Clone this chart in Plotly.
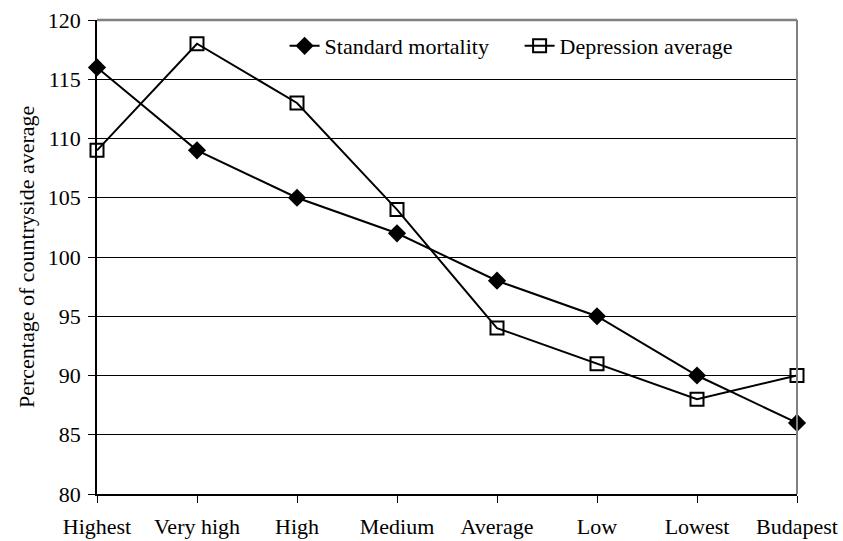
import plotly.graph_objects as go

categories = ["Highest", "Very high", "High", "Medium", "Average", "Low", "Lowest", "Budapest"]
standard_mortality = [116, 109, 105, 102, 98, 95, 90, 86]
depression_average = [109, 118, 113, 104, 94, 91, 88, 90]
y_ticks = [80, 85, 90, 95, 100, 105, 110, 115, 120]
y_title = "Percentage of countryside average"

xpos = list(range(len(categories)))
font = dict(family="Liberation Serif, Times New Roman, serif", size=22, color="black")

fig = go.Figure()
fig.add_trace(go.Scatter(
    x=xpos, y=standard_mortality, name="Standard mortality", mode="lines+markers",
    line=dict(color="black", width=2),
    marker=dict(symbol="diamond", size=14, color="black"),
    cliponaxis=False,
))
fig.add_trace(go.Scatter(
    x=xpos, y=depression_average, name="Depression average", mode="lines+markers",
    line=dict(color="black", width=2),
    marker=dict(symbol="square-open", size=13, color="black", line=dict(width=2)),
    cliponaxis=False,
))

fig.update_layout(
    width=843, height=541,
    margin=dict(l=97, r=46, t=20, b=47, autoexpand=False),
    paper_bgcolor="white", plot_bgcolor="white",
    font=font,
    showlegend=True,
    legend=dict(orientation="h", x=0.268, y=0.945, xanchor="left", yanchor="middle",
                bgcolor="rgba(0,0,0,0)", font=font,
                entrywidth=190, entrywidthmode="pixels",
                tracegroupgap=0),
    xaxis=dict(
        range=[0, len(categories) - 1], tickmode="array", tickvals=xpos, ticktext=categories,
        showgrid=False, zeroline=False, showline=True, linecolor="black", linewidth=1.5,
        ticks="outside", ticklen=7, tickcolor="black", tickfont=font, automargin=False,
        ticklabelstandoff=5,
    ),
    yaxis=dict(
        range=[80, 120], tickmode="array", tickvals=y_ticks,
        showgrid=True, gridcolor="black", gridwidth=1, zeroline=False,
        showline=True, linecolor="black", linewidth=1.5,
        ticks="outside", ticklen=7, tickcolor="black", tickfont=font, automargin=False,
        ticklabelstandoff=3,
    ),
    annotations=[dict(text=y_title, textangle=-90, xref="paper", yref="paper",
                      x=-(97 - 26) / 700, y=0.5, xanchor="center", yanchor="middle",
                      showarrow=False, font=font)],
    shapes=[
        dict(type="line", xref="paper", yref="paper", x0=1, x1=1, y0=0, y1=1,
             line=dict(color="#808080", width=2)),
        dict(type="line", xref="paper", yref="paper", x0=0, x1=1, y0=1, y1=1,
             line=dict(color="#808080", width=2.5)),
    ],
)

fig.write_html("out.html")
